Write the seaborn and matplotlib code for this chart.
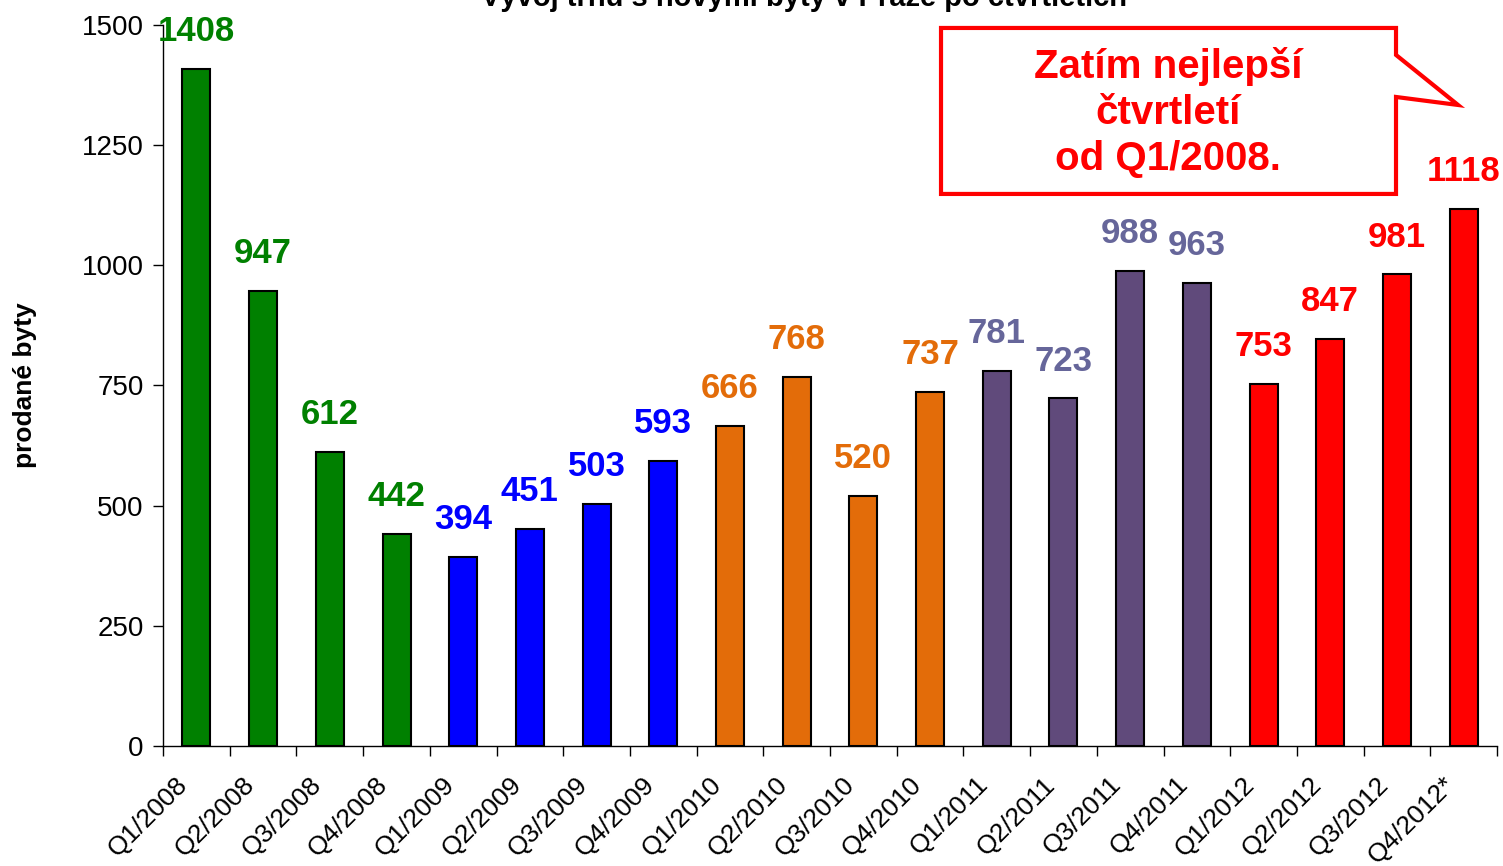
import numpy as np
import matplotlib
matplotlib.use("Agg")
import matplotlib.pyplot as plt
import matplotlib.transforms as mtransforms
import seaborn as sns
from matplotlib.patches import Polygon

sns.set_style("white")
plt.rcParams['font.family'] = ['Liberation Sans', 'DejaVu Sans']
plt.rcParams['text.color'] = 'black'
plt.rcParams['xtick.color'] = 'black'
plt.rcParams['ytick.color'] = 'black'
plt.rcParams['axes.labelcolor'] = 'black'

# Data
ctvrtleti = ["Q1/2008", "Q2/2008", "Q3/2008", "Q4/2008",
             "Q1/2009", "Q2/2009", "Q3/2009", "Q4/2009",
             "Q1/2010", "Q2/2010", "Q3/2010", "Q4/2010",
             "Q1/2011", "Q2/2011", "Q3/2011", "Q4/2011",
             "Q1/2012", "Q2/2012", "Q3/2012", "Q4/2012*"]
prodane = [1408, 947, 612, 442,
           394, 451, 503, 593,
           666, 768, 520, 737,
           781, 723, 988, 963,
           753, 847, 981, 1118]
roky = ["2008"] * 4 + ["2009"] * 4 + ["2010"] * 4 + ["2011"] * 4 + ["2012"] * 4

barvy_roku = {"2008": "#008000", "2009": "#0000FF", "2010": "#E36C09",
              "2011": "#604A7B", "2012": "#FF0000"}
barvy_popisku = {"2008": "#008000", "2009": "#0000FF", "2010": "#E36C09",
                 "2011": "#66669A", "2012": "#FF0000"}

fig = plt.figure(figsize=(15.03, 8.66), dpi=100)
ax = fig.add_axes([0.1085, 0.1386, 0.8875, 0.8326])

paleta = [barvy_roku[r] for r in roky]
sns.barplot(x=ctvrtleti, y=prodane, hue=ctvrtleti, palette=paleta, legend=False,
            width=0.42, edgecolor="black", linewidth=1.5, saturation=1, ax=ax)

# popisky hodnot
for i, (v, r) in enumerate(zip(prodane, roky)):
    ax.annotate(str(v), (i, v), xytext=(0, 15), textcoords="offset points",
                ha="center", va="bottom", fontsize=25, fontweight="bold",
                color=barvy_popisku[r])

ax.set_ylim(0, 1500)
ax.set_xlim(-0.5, len(ctvrtleti) - 0.5)
ax.set_yticks(np.arange(0, 1501, 250))
ax.tick_params(axis="y", labelsize=20, direction="out", length=7, width=1, left=True, pad=7)
ax.set_xticks(range(len(ctvrtleti)))
ax.set_xticklabels(ctvrtleti, rotation=45, ha="right", rotation_mode="anchor", fontsize=19)
ax.tick_params(axis="x", which="major", length=0, pad=19)
ax.set_xticks(np.arange(-0.5, len(ctvrtleti)), minor=True)
ax.tick_params(axis="x", which="minor", direction="out", length=7, width=1, bottom=True)

# posun popisku osy x doleva
posun = mtransforms.ScaledTranslation(-15 / 72, 0, fig.dpi_scale_trans)
for lbl in ax.get_xticklabels():
    lbl.set_transform(lbl.get_transform() + posun)

ax.set_ylabel("prodané byty", fontsize=19, fontweight="bold", labelpad=32)
ax.set_xlabel("")
for s in ["top", "right"]:
    ax.spines[s].set_visible(False)
for s in ["left", "bottom"]:
    ax.spines[s].set_color("black")
    ax.spines[s].set_linewidth(1)

# titulek (oříznutý nahoře)
fig.text(0.535, 0.9935, "Vývoj trhu s novými byty v Praze po čtvrtletích",
         ha="center", va="baseline", fontsize=21, fontweight="bold", color="black")

# bublina
bublina = Polygon([(0.5832, 0.9958), (0.9243, 0.9958), (0.9243, 0.9584),
                   (0.9708, 0.8890), (0.9243, 0.9001), (0.9243, 0.7656),
                   (0.5832, 0.7656)], closed=True, transform=ax.transAxes,
                  facecolor="white", edgecolor="#FF0000", linewidth=3,
                  clip_on=False, zorder=5)
ax.add_patch(bublina)
ax.text(0.7534, 0.8790, "Zatím nejlepší\nčtvrtletí\nod Q1/2008.",
        transform=ax.transAxes, ha="center", va="center", fontsize=29,
        fontweight="bold", color="#FF0000", linespacing=1.27, zorder=6)

fig.savefig("out.png", dpi=100)
